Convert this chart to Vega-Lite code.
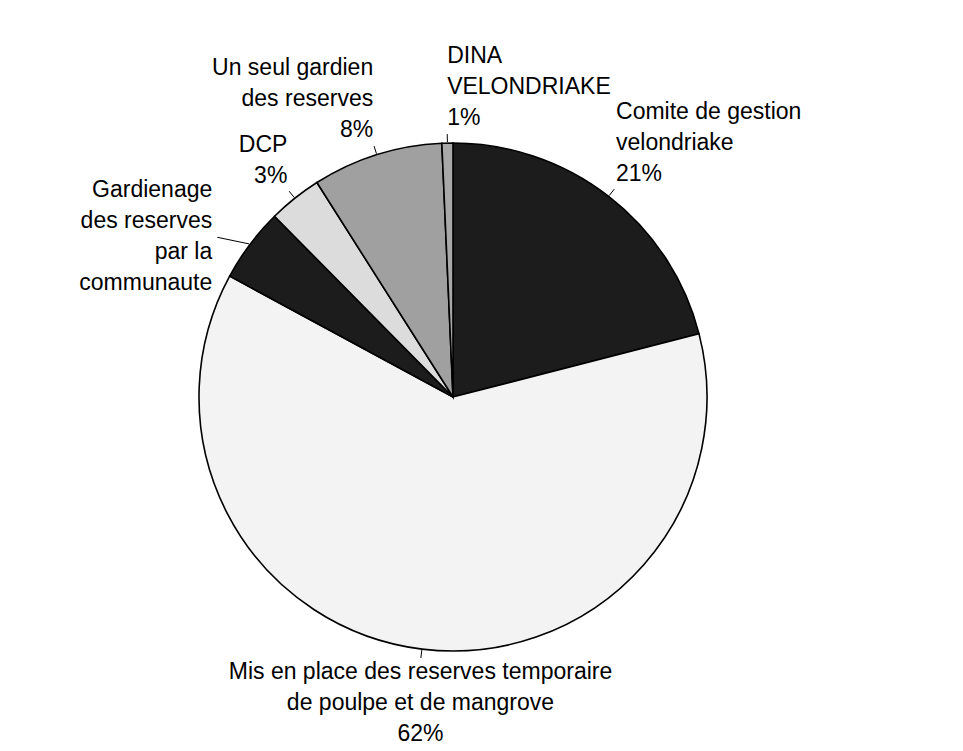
{
  "$schema": "https://vega.github.io/schema/vega-lite/v6.json",
  "width": 963,
  "height": 751,
  "autosize": {"type": "fit", "contains": "padding"},
  "padding": {"left": 0, "right": 57, "top": 43, "bottom": 0},
  "background": "white",
  "config": {"view": {"stroke": null}},
  "data": {
    "values": [
      {"category": "Comite de gestion velondriake", "label": "Comite de gestion\nvelondriake\n21%", "value": 21.0},
      {"category": "Mis en place des reserves temporaire de poulpe et de mangrove", "label": "Mis en place des reserves temporaire\nde poulpe et de mangrove\n62%", "value": 61.9},
      {"category": "Gardienage des reserves par la communaute", "label": "Gardienage\ndes reserves\npar la\ncommunaute", "value": 4.7},
      {"category": "DCP", "label": "DCP\n3%", "value": 3.4},
      {"category": "Un seul gardien des reserves", "label": "Un seul gardien\ndes reserves\n8%", "value": 8.3},
      {"category": "DINA VELONDRIAKE", "label": "DINA\nVELONDRIAKE\n1%", "value": 0.7}
    ]
  },
  "transform": [
    {"stack": "value", "groupby": [], "as": ["v0", "v1"]},
    {"calculate": "(datum.v0 + datum.v1) / 2 / 100 * 2 * PI", "as": "ang"},
    {"calculate": "sin(datum.ang)", "as": "sx"},
    {"calculate": "cos(datum.ang)", "as": "cy"},
    {"calculate": "abs(datum.cy) <= 0.7 ? (datum.sx < 0 ? -28 : 28) : 0", "as": "ex"},
    {"calculate": "datum.sx * 266 + datum.ex", "as": "lx"},
    {"calculate": "datum.cy * 266", "as": "ly"},
    {"calculate": "length(split(datum.label, '\\n'))", "as": "nl"},
    {"calculate": "(datum.nl - 1) * 31 + 24", "as": "bh"},
    {"calculate": "datum.cy > 0.7 ? datum.ly + datum.bh : (datum.cy < -0.7 ? datum.ly : datum.ly + datum.bh / 2)", "as": "ty"},
    {"calculate": "datum.sx * 255", "as": "ax"},
    {"calculate": "datum.cy * 255", "as": "ay"},
    {"calculate": "datum.ex != 0 ? datum.lx - (datum.sx < 0 ? -5 : 5) : datum.sx * 263", "as": "bx"},
    {"calculate": "datum.ex != 0 ? datum.ly : datum.cy * 263", "as": "by"}
  ],
  "layer": [
    {
      "mark": {"type": "arc", "outerRadius": 254, "stroke": "black", "strokeWidth": 1.6},
      "encoding": {
        "theta": {"field": "v0", "type": "quantitative", "stack": null, "scale": {"domain": [0, 100], "range": [0, 6.283185307179586]}},
        "theta2": {"field": "v1"},
        "color": {
          "field": "category",
          "type": "nominal",
          "legend": null,
          "scale": {
            "domain": ["Comite de gestion velondriake", "Mis en place des reserves temporaire de poulpe et de mangrove", "Gardienage des reserves par la communaute", "DCP", "Un seul gardien des reserves", "DINA VELONDRIAKE"],
            "range": ["#1c1c1c", "#f3f3f3", "#1c1c1c", "#dcdcdc", "#a0a0a0", "#a8a8a8"]
          }
        }
      }
    },
    {
      "mark": {"type": "rule", "stroke": "black", "strokeWidth": 1},
      "encoding": {
        "x": {"field": "ax", "type": "quantitative", "scale": {"domain": [-453, 453], "nice": false, "zero": false}, "axis": null},
        "y": {"field": "ay", "type": "quantitative", "scale": {"domain": [-354, 354], "nice": false, "zero": false}, "axis": null},
        "x2": {"field": "bx"},
        "y2": {"field": "by"}
      }
    },
    {
      "mark": {
        "type": "text",
        "font": "Liberation Sans",
        "fontSize": 23,
        "lineHeight": 31,
        "lineBreak": "\n",
        "color": "black",
        "baseline": "top",
        "align": {"expr": "datum.cy < -0.7 ? 'center' : (datum.sx < -0.2 ? 'right' : 'left')"}
      },
      "encoding": {
        "x": {"field": "lx", "type": "quantitative", "scale": {"domain": [-453, 453], "nice": false, "zero": false}, "axis": null},
        "y": {"field": "ty", "type": "quantitative", "scale": {"domain": [-354, 354], "nice": false, "zero": false}, "axis": null},
        "text": {"field": "label"}
      }
    }
  ]
}
